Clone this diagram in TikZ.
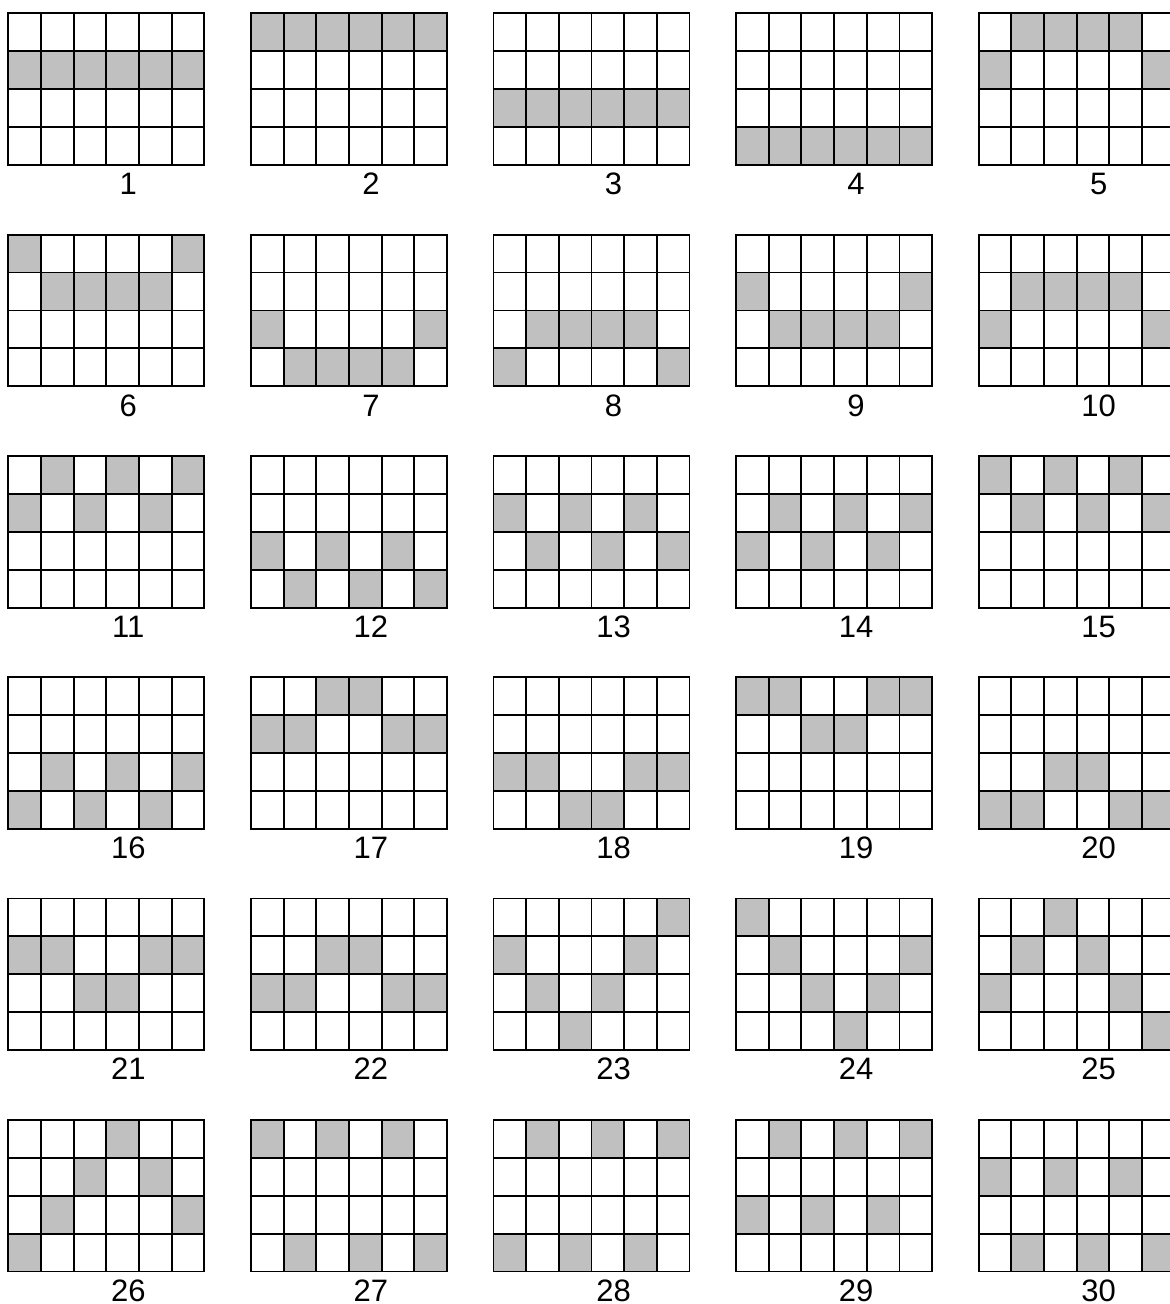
\documentclass[tikz,border=0pt]{standalone}
\usepackage{fontspec}
\setmainfont{Liberation Sans}
\definecolor{cellgray}{HTML}{C0C0C0}
\tikzset{
  gridline/.style={line width=1.9pt, black, line cap=rect},
  cellfill/.style={fill=cellgray},
  numlabel/.style={font=\fontsize{31}{31}\selectfont, inner sep=0pt, text depth=0pt, anchor=base}
}
\newcommand{\pgrid}[4]{%
  \begin{scope}[shift={({8.3+242.6*#2},{13.3+221.3*#3})}]
    \foreach \c/\r in {#4} {\fill[cellfill] ({(\c-1)*32.67},{(\r-1)*37.93}) rectangle ++(32.67,37.93);}
    \foreach \i in {0,...,6} {\draw[gridline] ({\i*32.67},0) -- ({\i*32.67},151.72);}
    \foreach \j in {0,...,4} {\draw[gridline] (0,{\j*37.93}) -- (196,{\j*37.93});}
    \node[numlabel] (l#1) at (120,181.4) {#1};
  \end{scope}}
\begin{document}
\begin{tikzpicture}[x=1pt,y=-1pt]
\useasboundingbox (0,0) rectangle (1170,1304);
\clip (0,0) rectangle (1170,1304);
\fill[white] (0,0) rectangle (1170,1304);
\pgrid{1}{0}{0}{1/2,2/2,3/2,4/2,5/2,6/2}
\pgrid{2}{1}{0}{1/1,2/1,3/1,4/1,5/1,6/1}
\pgrid{3}{2}{0}{1/3,2/3,3/3,4/3,5/3,6/3}
\pgrid{4}{3}{0}{1/4,2/4,3/4,4/4,5/4,6/4}
\pgrid{5}{4}{0}{2/1,3/1,4/1,5/1,1/2,6/2}
\pgrid{6}{0}{1}{1/1,6/1,2/2,3/2,4/2,5/2}
\pgrid{7}{1}{1}{1/3,6/3,2/4,3/4,4/4,5/4}
\pgrid{8}{2}{1}{2/3,3/3,4/3,5/3,1/4,6/4}
\pgrid{9}{3}{1}{1/2,6/2,2/3,3/3,4/3,5/3}
\pgrid{10}{4}{1}{2/2,3/2,4/2,5/2,1/3,6/3}
\pgrid{11}{0}{2}{2/1,4/1,6/1,1/2,3/2,5/2}
\pgrid{12}{1}{2}{1/3,3/3,5/3,2/4,4/4,6/4}
\pgrid{13}{2}{2}{1/2,3/2,5/2,2/3,4/3,6/3}
\pgrid{14}{3}{2}{2/2,4/2,6/2,1/3,3/3,5/3}
\pgrid{15}{4}{2}{1/1,3/1,5/1,2/2,4/2,6/2}
\pgrid{16}{0}{3}{2/3,4/3,6/3,1/4,3/4,5/4}
\pgrid{17}{1}{3}{3/1,4/1,1/2,2/2,5/2,6/2}
\pgrid{18}{2}{3}{1/3,2/3,5/3,6/3,3/4,4/4}
\pgrid{19}{3}{3}{1/1,2/1,5/1,6/1,3/2,4/2}
\pgrid{20}{4}{3}{3/3,4/3,1/4,2/4,5/4,6/4}
\pgrid{21}{0}{4}{1/2,2/2,5/2,6/2,3/3,4/3}
\pgrid{22}{1}{4}{3/2,4/2,1/3,2/3,5/3,6/3}
\pgrid{23}{2}{4}{6/1,1/2,5/2,2/3,4/3,3/4}
\pgrid{24}{3}{4}{1/1,2/2,6/2,3/3,5/3,4/4}
\pgrid{25}{4}{4}{3/1,2/2,4/2,1/3,5/3,6/4}
\pgrid{26}{0}{5}{4/1,3/2,5/2,2/3,6/3,1/4}
\pgrid{27}{1}{5}{1/1,3/1,5/1,2/4,4/4,6/4}
\pgrid{28}{2}{5}{2/1,4/1,6/1,1/4,3/4,5/4}
\pgrid{29}{3}{5}{2/1,4/1,6/1,1/3,3/3,5/3}
\pgrid{30}{4}{5}{1/2,3/2,5/2,2/4,4/4,6/4}
\end{tikzpicture}
\end{document}
